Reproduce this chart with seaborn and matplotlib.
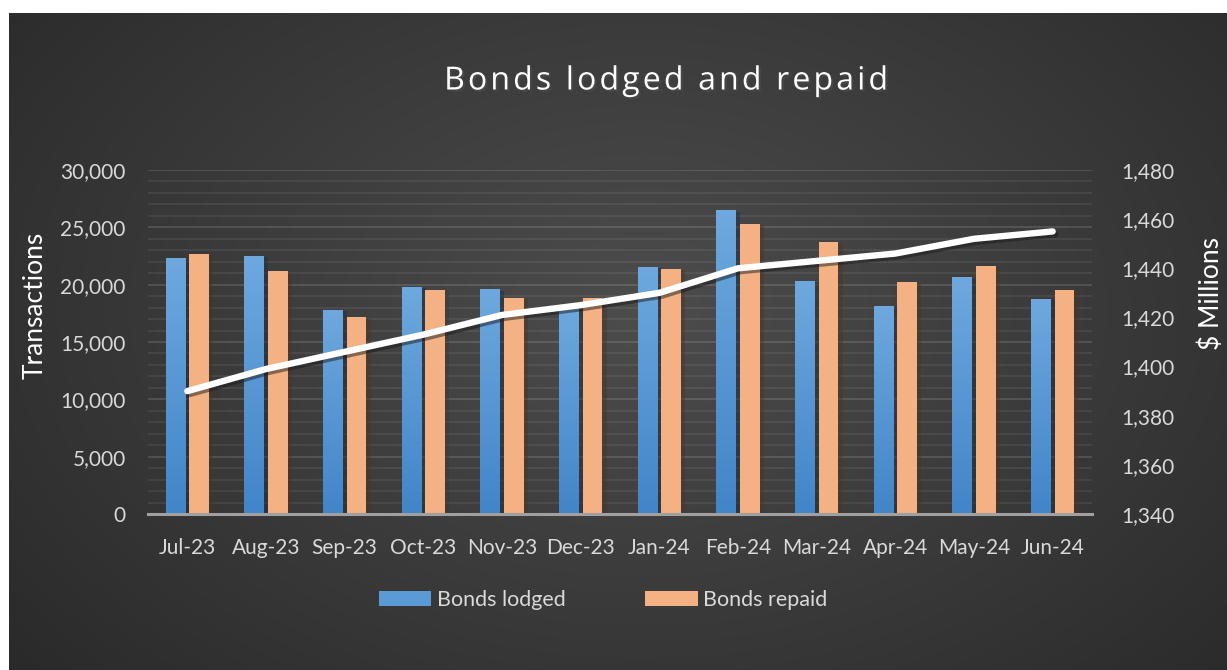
import matplotlib.pyplot as plt
import matplotlib.patheffects as pe
import matplotlib.ticker as mticker
import numpy as np
import pandas as pd
import seaborn as sns

# data
months = ["Jul-23", "Aug-23", "Sep-23", "Oct-23", "Nov-23", "Dec-23",
          "Jan-24", "Feb-24", "Mar-24", "Apr-24", "May-24", "Jun-24"]
lodged = [22300, 22500, 17800, 19800, 19600, 18000,
          21550, 26500, 20300, 18150, 20650, 18750]
repaid = [22650, 21150, 17150, 19550, 18850, 18850,
          21400, 25300, 23700, 20200, 21600, 19550]
value_m = [1390, 1399, 1406, 1413, 1421, 1425,
           1430, 1440, 1443, 1446, 1452, 1455]

df = pd.DataFrame({"month": months * 2,
                   "count": lodged + repaid,
                   "series": ["Bonds lodged"] * 12 + ["Bonds repaid"] * 12})

blue = "#5b9bd5"
orange = "#f4b183"
txt = "#d9d9d9"

sns.set_theme(style="white")
plt.rcParams["font.family"] = ["Lato", "DejaVu Sans"]

fig = plt.figure(figsize=(12.27, 6.70), dpi=100)
fig.patch.set_facecolor("white")

# dark radial background
bg = fig.add_axes([9 / 1227, 0, 1 - 9 / 1227, 1 - 13 / 670], zorder=-10)
yy, xx = np.mgrid[0:1:300j, 0:1:600j]
r = np.sqrt(((xx - 0.52) / 0.75) ** 2 + ((yy - 0.45) / 0.95) ** 2)
shade = np.clip(0.30 - 0.15 * np.clip(r, 0, 1), 0, 1)
bg.imshow(np.dstack([shade] * 3), aspect="auto", extent=[0, 1, 0, 1])
bg.axis("off")

ax = fig.add_axes([148 / 1227, 1 - 514 / 670, (1092 - 148) / 1227, (514 - 170) / 670])
ax.patch.set_alpha(0)

sns.barplot(data=df, x="month", y="count", hue="series",
            palette=[blue, orange], width=0.6, gap=0.16, linewidth=0,
            saturation=1, ax=ax, legend=True)

# vertical gradient on the blue bars, soft shadow on all bars
grad = np.linspace(0, 1, 100).reshape(-1, 1)
cmap = plt.matplotlib.colors.LinearSegmentedColormap.from_list("b", ["#4285c8", "#6ea8de"])
shadow = [pe.SimplePatchShadow(offset=(3, -1), alpha=0.45), pe.Normal()]
for bar in ax.containers[0]:
    bar.set_path_effects(shadow)
    x0, w, h = bar.get_x(), bar.get_width(), bar.get_height()
    im = ax.imshow(grad, cmap=cmap, extent=[x0, x0 + w, 0, h], origin="lower",
                   aspect="auto", zorder=bar.get_zorder() + 0.1)
    im.set_clip_path(bar)
for bar in ax.containers[1]:
    bar.set_path_effects(shadow)

ax.set_xlim(-0.5, 11.5)
ax.set_ylim(0, 30000)
ax.yaxis.set_major_locator(mticker.MultipleLocator(5000))
ax.yaxis.set_minor_locator(mticker.MultipleLocator(1000))
ax.yaxis.set_major_formatter(mticker.StrMethodFormatter("{x:,.0f}"))
ax.grid(axis="y", which="major", color="white", alpha=0.15, lw=1.2)
ax.grid(axis="y", which="minor", color="white", alpha=0.08, lw=1.2)
ax.set_axisbelow(True)
for s in ["top", "right", "left"]:
    ax.spines[s].set_visible(False)
ax.spines["bottom"].set_color("#a0a0a0")
ax.spines["bottom"].set_linewidth(2.2)
ax.spines["bottom"].set_zorder(5)
ax.tick_params(axis="both", which="both", length=0, colors=txt, labelsize=15)
ax.tick_params(axis="x", pad=17)
ax.tick_params(axis="y", pad=16)
ax.set_xlabel("")
ax.set_ylabel("Transactions", color="white", fontsize=19)
ax.yaxis.set_label_coords((48 - 148) / (1092 - 148), (514 - 305) / 344)

leg = ax.legend(loc="center", bbox_to_anchor=(603 / 1227, 1 - 600 / 670),
                bbox_transform=fig.transFigure, ncol=2, frameon=False,
                fontsize=15.5, handlelength=2.45, handleheight=0.65,
                columnspacing=3.7, handletextpad=0.25)
for t in leg.get_texts():
    t.set_color(txt)

ax2 = ax.twinx()
sns.lineplot(x=np.arange(len(months)), y=value_m, ax=ax2, color="white",
             lw=4.6, solid_capstyle="round", solid_joinstyle="round",
             path_effects=[pe.SimpleLineShadow(offset=(2, -2), alpha=0.5), pe.Normal()])
ax2.set_xlim(-0.5, 11.5)
ax2.set_ylim(1340, 1480)
ax2.yaxis.set_major_locator(mticker.MultipleLocator(20))
ax2.yaxis.set_major_formatter(mticker.StrMethodFormatter("{x:,.0f}"))
for s in ax2.spines.values():
    s.set_visible(False)
ax2.tick_params(axis="y", length=0, colors=txt, labelsize=15, pad=21)
ax2.set_ylabel("$ Millions", color="white", fontsize=19)
ax2.yaxis.set_label_coords((1199 - 148) / (1092 - 148), (514 - 293) / 344)

title = "\u200a".join("Bonds lodged and repaid")
fig.text(667 / 1227, 1 - 81 / 670, title, color="white",
         fontsize=23, ha="center", va="center", family=["Open Sans", "DejaVu Sans"],
         path_effects=[pe.withSimplePatchShadow(offset=(1.5, -1.5), alpha=0.6)])

fig.savefig("out.png", dpi=100, facecolor=fig.get_facecolor())
